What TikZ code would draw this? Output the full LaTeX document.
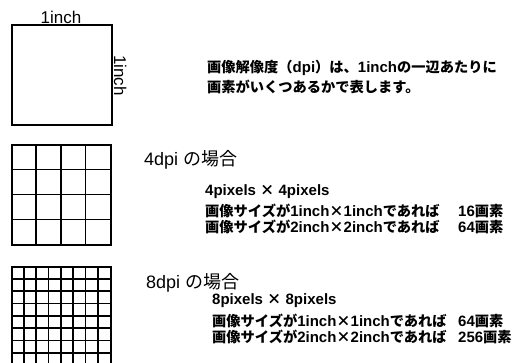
\documentclass[tikz,border=0pt]{standalone}
\usepackage{fontspec}
\usetikzlibrary{calc}
\setmainfont{Liberation Sans}
\newfontfamily\jpf{Noto Sans CJK JP}
\newfontfamily\jpb{Noto Sans CJK JP Bold}[Scale=0.95]
\newcommand{\J}[1]{{\jpf #1}}
\newcommand{\JB}[1]{{\jpb #1}}
\tikzset{
  frame/.style={draw=black, line width=1.3pt},
  gl/.style={draw=black, line width=1.3pt},
  gl8/.style={draw=black, line width=1.6pt},
  lab/.style={inner sep=0pt, font=\fontsize{17}{20}\selectfont},
  head/.style={inner sep=0pt, anchor=west, font=\fontsize{18}{22}\selectfont},
  jtxt/.style={inner sep=0pt, anchor=west, font=\fontsize{15}{18}\selectfont\bfseries},
}
\begin{document}
\begin{tikzpicture}[x=1pt,y=-1pt]
\useasboundingbox (0,0) rectangle (526,363);
\clip (0,0) rectangle (526,363);
% 1inch square
\node[frame, minimum width=100pt, minimum height=100pt, inner sep=0pt] (sq) at (62,75) {};
\node[lab, anchor=base] (topl) at (61,23.5) {1inch};
\node[lab, rotate=-90, anchor=base] (sidel) at (114,75.5) {1inch};
\node[jtxt] (t1) at (207,68) {\JB{画像解像度（}dpi\JB{）は、}1inch\JB{の一辺あたりに}};
\node[jtxt] (t2) at (207,87) {\JB{画素がいくつあるかで表します。}};
% 4dpi grid
\node[frame, minimum width=99pt, minimum height=100pt, inner sep=0pt] (g4) at (61.5,195) {};
\foreach \i in {1,2,3} {
  \draw[gl] ($(g4.north west)+(\i*24.75,0)$) -- ($(g4.south west)+(\i*24.75,0)$);
  \draw[gl] ($(g4.north west)+(0,\i*25)$) -- ($(g4.north east)+(0,\i*25)$);
}
\node[head] (h4) at (144,160) {4dpi \J{の場合}};
\node[jtxt] (p4) at (205,192) {4pixels \JB{×} 4pixels};
\node[jtxt] (a4) at (205,211) {\JB{画像サイズが}1inch\JB{×}1inch\JB{であれば}};
\node[jtxt] (b4) at (205,227) {\JB{画像サイズが}2inch\JB{×}2inch\JB{であれば}};
\node[jtxt] (c4a) at (458,211) {16\JB{画素}};
\node[jtxt] (c4b) at (458,227) {64\JB{画素}};
% 8dpi grid
\node[frame, minimum width=99pt, minimum height=99pt, inner sep=0pt] (g8) at (61.5,316.5) {};
\foreach \i in {1,...,7} {
  \draw[gl8] ($(g8.north west)+(\i*12.375,0)$) -- ($(g8.south west)+(\i*12.375,0)$);
  \draw[gl8] ($(g8.north west)+(0,\i*12.375)$) -- ($(g8.north east)+(0,\i*12.375)$);
}
\node[head] (h8) at (146,283) {8dpi \J{の場合}};
\node[jtxt] (p8) at (212,301) {8pixels \JB{×} 8pixels};
\node[jtxt] (a8) at (212,321) {\JB{画像サイズが}1inch\JB{×}1inch\JB{であれば}};
\node[jtxt] (b8) at (212,337) {\JB{画像サイズが}2inch\JB{×}2inch\JB{であれば}};
\node[jtxt] (c8a) at (458,321) {64\JB{画素}};
\node[jtxt] (c8b) at (458,337) {256\JB{画素}};
\end{tikzpicture}
\end{document}
